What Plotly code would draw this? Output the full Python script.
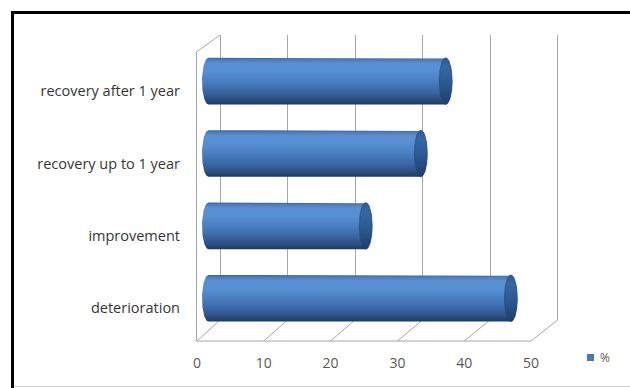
import numpy as np
import plotly.graph_objects as go

# ---- data -------------------------------------------------------------
categories = ["deterioration", "improvement", "recovery up to 1 year", "recovery after 1 year"]
values = [45.0, 23.4, 31.6, 35.3]
x_ticks = [0, 10, 20, 30, 40, 50]
series_name = "%"

# ---- canvas / 3-D frame geometry (pixels) -----------------------------
W, H = 630, 388
PLOT_LEFT = 185                      # left edge of all plot domains

MID_X0, MID_S = 208.5, 6.72          # value axis at the depth of the cylinders
BACK_X0, BACK_S = 220.0, 6.75        # value axis on the back wall
FRONT_X0, FRONT_S = 197.0, 6.68      # value axis on the front edge of the floor
BACK_TOP, BACK_FLOOR = 35, 320
FRONT_TOP, FRONT_FLOOR = 52, 341

ROW0_Y, ROW_S = 298.3, 72.4          # pixel centre of first category, spacing
HALF_H = 23.3 / ROW_S                # cylinder radius in category units
CAP_A = 6.5 / MID_S                  # ellipse half-width of the cylinder ends

LINE = "#a6a6a6"
FONT = "'Open Sans', Lato, sans-serif"


def fx(px):
    return px / W


def fy(py):
    return 1 - py / H


def axis_range(x0, s):
    return [(PLOT_LEFT - x0) / s, (W - x0) / s]


def back_px(v):
    return BACK_X0 + v * BACK_S


def front_px(v):
    return FRONT_X0 + v * FRONT_S


fig = go.Figure()

# back wall subplot (x/y): only carries the vertical gridlines
fig.add_trace(go.Scatter(x=[], y=[], xaxis="x", yaxis="y", showlegend=False))
# front value axis overlays the cylinder subplot
fig.add_trace(go.Scatter(x=[], y=[], xaxis="x3", yaxis="y2", showlegend=False))

# cylinders on subplot x2/y2
t_right = np.linspace(np.pi / 2, -np.pi / 2, 40)
t_left = np.linspace(3 * np.pi / 2, np.pi / 2, 40)
t_full = np.linspace(0, 2 * np.pi, 80)

body_scale = [
    [0.0, "#1d3960"], [0.08, "#28497a"], [0.25, "#3764a0"], [0.5, "#4a7fc2"],
    [0.72, "#5890d4"], [0.88, "#5a8fd1"], [0.96, "#4a7bbb"], [1.0, "#36619b"],
]
cap_scale = [[0.0, "#1f3d69"], [0.45, "#2b5892"], [0.8, "#3567a6"], [1.0, "#2f5b95"]]

for i, (cat, v) in enumerate(zip(categories, values)):
    xs = ([0, v] + list(v + CAP_A * np.cos(t_right)) + [0]
          + list(CAP_A * np.cos(t_left)))
    ys = ([i + HALF_H, i + HALF_H] + list(i + HALF_H * np.sin(t_right)) + [i - HALF_H]
          + list(i + HALF_H * np.sin(t_left)))
    fig.add_trace(go.Scatter(
        x=xs, y=ys, xaxis="x2", yaxis="y2", mode="lines", line=dict(width=0),
        fill="toself", fillgradient=dict(type="vertical", colorscale=body_scale),
        hoverinfo="skip", showlegend=False, name=cat,
    ))
    fig.add_trace(go.Scatter(
        x=list(v + CAP_A * np.cos(t_full)), y=list(i + HALF_H * np.sin(t_full)),
        xaxis="x2", yaxis="y2", mode="lines", line=dict(width=0.6, color="#23477a"),
        fill="toself", fillgradient=dict(type="vertical", colorscale=cap_scale),
        hoverinfo="skip", showlegend=False, name=cat,
    ))

# ---- frame lines: side wall edge and floor --------------------------------
shapes = []


def seg(x0, y0, x1, y1, color=LINE, width=1):
    shapes.append(dict(type="line", xref="paper", yref="paper",
                       x0=fx(x0), y0=fy(y0), x1=fx(x1), y1=fy(y1),
                       line=dict(color=color, width=width), layer="below"))


seg(front_px(0) - 0.5, FRONT_TOP, front_px(0) - 0.5, FRONT_FLOOR)
seg(front_px(0) - 0.5, FRONT_TOP, back_px(0), BACK_TOP)
seg(front_px(0) - 0.5, FRONT_FLOOR, front_px(x_ticks[-1]), FRONT_FLOOR)
for t in x_ticks:
    seg(back_px(t), BACK_FLOOR, front_px(t), FRONT_FLOOR)

# outer chart border
shapes.append(dict(type="rect", xref="paper", yref="paper",
                   x0=fx(12.5), y0=fy(400), x1=fx(640), y1=fy(12.5),
                   line=dict(color="#000000", width=3), layer="above"))
seg(14, 386.5, 630, 386.5, color="#d4d4d4", width=1)

# legend swatch
shapes.append(dict(type="rect", xref="paper", yref="paper",
                   x0=fx(587), y0=fy(361), x1=fx(594), y1=fy(354),
                   line=dict(width=0), fillcolor="#4a79b4", layer="above"))

fig.update_layout(
    width=W, height=H,
    margin=dict(l=0, r=0, t=0, b=0),
    paper_bgcolor="#ffffff", plot_bgcolor="rgba(0,0,0,0)",
    font=dict(family=FONT, color="#404040"),
    shapes=shapes,
    annotations=[dict(text=series_name, xref="paper", yref="paper",
                      x=fx(598), y=fy(357.5), xanchor="left", yanchor="middle",
                      showarrow=False, font=dict(size=12, color="#595959"))],
    # back wall gridlines
    xaxis=dict(domain=[fx(PLOT_LEFT), 1], range=axis_range(BACK_X0, BACK_S),
               tickvals=x_ticks, showticklabels=False, showgrid=True,
               gridcolor=LINE, gridwidth=1, zeroline=False, showline=False,
               anchor="y", fixedrange=True),
    yaxis=dict(domain=[fy(BACK_FLOOR), fy(BACK_TOP)], range=[0, 1],
               visible=False, showgrid=False, anchor="x", fixedrange=True),
    # cylinders, category labels
    xaxis2=dict(domain=[fx(PLOT_LEFT), 1], range=axis_range(MID_X0, MID_S),
                visible=False, anchor="y2", fixedrange=True),
    yaxis2=dict(domain=[0, 1],
                range=[(ROW0_Y - H) / ROW_S, ROW0_Y / ROW_S],
                tickvals=list(range(len(categories))), ticktext=categories,
                ticklabelshift=10, ticklabelstandoff=4,
                tickfont=dict(size=14.5, color="#363636"),
                showgrid=False, zeroline=False, showline=False, ticks="",
                anchor="x2", fixedrange=True),
    # value labels along the front edge of the floor
    xaxis3=dict(overlaying="x2", range=axis_range(FRONT_X0, FRONT_S),
                tickvals=x_ticks, side="bottom", anchor="free",
                position=fy(353), showgrid=False, zeroline=False,
                showline=False, ticks="", visible=True, showticklabels=True,
                tickfont=dict(size=14, color="#595959"), fixedrange=True),
)

fig.write_html("out.html")
